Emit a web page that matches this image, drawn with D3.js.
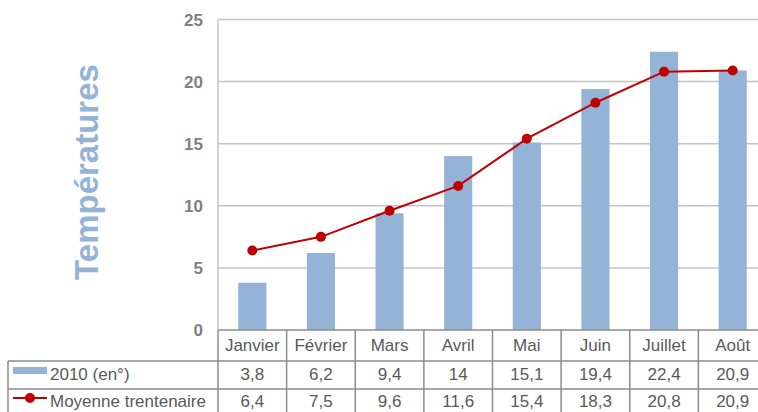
<!DOCTYPE html>
<html>
<head>
<meta charset="utf-8">
<script src="https://cdn.jsdelivr.net/npm/d3@7"></script>
<style>
  body { margin: 0; background: #fff; }
  svg { display: block; font-family: Arial, "Liberation Sans", Helvetica, sans-serif; }
</style>
</head>
<body>
<svg id="chart" width="758" height="412"></svg>
<script>
// data
const months = ["Janvier", "Février", "Mars", "Avril", "Mai", "Juin", "Juillet", "Août"];
const temp2010 = [3.8, 6.2, 9.4, 14, 15.1, 19.4, 22.4, 20.9];
const moyenne = [6.4, 7.5, 9.6, 11.6, 15.4, 18.3, 20.8, 20.9];
const yTicks = [0, 5, 10, 15, 20, 25];
const seriesNames = ["2010 (en°)", "Moyenne trentenaire"];

const svg = d3.select("#chart");
const fmt = v => String(v).replace(".", ",");

// layout
const plotLeft = 218, plotRight = 767, plotTop = 19.5, plotBottom = 330;
const tableLeft = 8;
const rowTops = [330, 361, 389, 417];
const baselines = [351, 380, 407];

const x = d3.scaleBand().domain(months).range([plotLeft, plotRight]).paddingInner(0.59).paddingOuter(0.295);
const xCol = d3.scaleBand().domain(months).range([plotLeft, plotRight]);
const y = d3.scaleLinear().domain([0, 25]).range([plotBottom, plotTop]);

// gridlines
svg.append("g")
  .selectAll("line")
  .data(yTicks.filter(d => d > 0))
  .join("line")
  .attr("x1", plotLeft).attr("x2", plotRight)
  .attr("y1", d => y(d)).attr("y2", d => y(d))
  .attr("stroke", "#c4c4c4").attr("stroke-width", 1.5);

// left axis line
svg.append("line")
  .attr("x1", plotLeft).attr("x2", plotLeft)
  .attr("y1", plotTop).attr("y2", plotBottom)
  .attr("stroke", "#c4c4c4").attr("stroke-width", 1.5);

// y tick labels
svg.append("g")
  .selectAll("text")
  .data(yTicks)
  .join("text")
  .attr("x", 203)
  .attr("y", d => y(d) + 6)
  .attr("text-anchor", "end")
  .style("font-size", "17px")
  .style("font-weight", "bold")
  .attr("fill", "#7f7f7f")
  .text(d => d);

// axis title
svg.append("text")
  .attr("transform", "translate(98,172) rotate(-90)")
  .attr("text-anchor", "middle")
  .style("font-size", "33px")
  .style("font-weight", "bold")
  .attr("fill", "#95b3d7")
  .text("Températures");

// bars
svg.append("g")
  .selectAll("rect")
  .data(temp2010)
  .join("rect")
  .attr("x", (d, i) => x(months[i]))
  .attr("width", x.bandwidth())
  .attr("y", d => y(d))
  .attr("height", d => y(0) - y(d))
  .attr("fill", "#95b3d7");

// line
const line = d3.line()
  .x((d, i) => xCol(months[i]) + xCol.bandwidth() / 2)
  .y(d => y(d));

svg.append("path")
  .datum(moyenne)
  .attr("d", line)
  .attr("fill", "none")
  .attr("stroke", "#c00000")
  .attr("stroke-width", 2);

svg.append("g")
  .selectAll("circle")
  .data(moyenne)
  .join("circle")
  .attr("cx", (d, i) => xCol(months[i]) + xCol.bandwidth() / 2)
  .attr("cy", d => y(d))
  .attr("r", 5)
  .attr("fill", "#c00000");

// data table
const table = svg.append("g");
const gridColor = "#8c8c8c";

// horizontal lines
table.selectAll("line.h")
  .data(rowTops)
  .join("line")
  .attr("class", "h")
  .attr("x1", (d, i) => i < 1 ? plotLeft : tableLeft)
  .attr("x2", plotRight)
  .attr("y1", d => d).attr("y2", d => d)
  .attr("stroke", gridColor).attr("stroke-width", 1.5);

// vertical lines
const colEdges = months.map(m => xCol(m)).concat([plotRight]);
table.selectAll("line.v")
  .data(colEdges)
  .join("line")
  .attr("class", "v")
  .attr("x1", d => d).attr("x2", d => d)
  .attr("y1", rowTops[0]).attr("y2", rowTops[3])
  .attr("stroke", gridColor).attr("stroke-width", 1.5);

table.append("line")
  .attr("x1", tableLeft).attr("x2", tableLeft)
  .attr("y1", rowTops[1]).attr("y2", rowTops[3])
  .attr("stroke", gridColor).attr("stroke-width", 1.5);

// category labels
table.selectAll("text.cat")
  .data(months)
  .join("text")
  .attr("class", "cat")
  .attr("x", d => xCol(d) + xCol.bandwidth() / 2)
  .attr("y", baselines[0])
  .attr("text-anchor", "middle")
  .style("font-size", "17px")
  .attr("fill", "#595959")
  .text(d => d);

// values
[temp2010, moyenne].forEach((vals, r) => {
  table.append("g")
    .selectAll("text")
    .data(vals)
    .join("text")
    .attr("x", (d, i) => xCol(months[i]) + xCol.bandwidth() / 2)
    .attr("y", baselines[r + 1])
    .attr("text-anchor", "middle")
    .style("font-size", "17px")
    .attr("fill", "#595959")
    .text(d => fmt(d));
});

// legend keys
table.append("rect")
  .attr("x", 13).attr("y", 367)
  .attr("width", 34).attr("height", 7)
  .attr("fill", "#95b3d7");
table.append("line")
  .attr("x1", 13).attr("x2", 47)
  .attr("y1", 398).attr("y2", 398)
  .attr("stroke", "#c00000").attr("stroke-width", 2);
table.append("circle")
  .attr("cx", 30).attr("cy", 398).attr("r", 5)
  .attr("fill", "#c00000");

table.selectAll("text.series")
  .data(seriesNames)
  .join("text")
  .attr("class", "series")
  .attr("x", 50)
  .attr("y", (d, i) => baselines[i + 1])
  .style("font-size", "17px")
  .attr("fill", "#595959")
  .text(d => d);
</script>
</body>
</html>
